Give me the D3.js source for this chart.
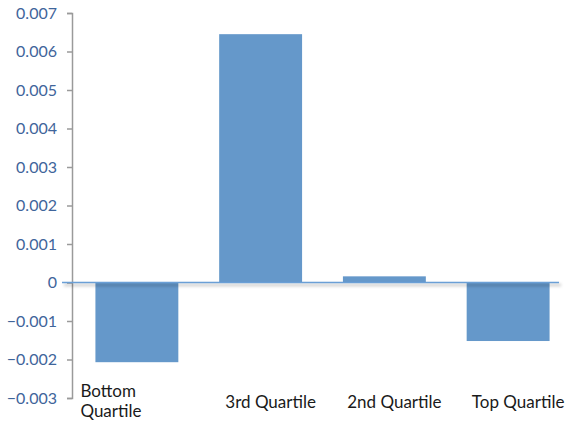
<!DOCTYPE html>
<html>
<head>
<meta charset="utf-8">
<script src="https://cdn.jsdelivr.net/npm/d3@7"></script>
<style>
body { margin: 0; background: #fff; }
text { font-family: Lato, "Open Sans", sans-serif; }
</style>
</head>
<body>
<svg id="chart" width="570" height="423"></svg>
<script>
var width = 570,
	height = 423;

// data
var categories = ["Bottom Quartile", "3rd Quartile", "2nd Quartile", "Top Quartile"];
var values = [-0.00207, 0.00645, 0.00016, -0.00152];
var yTicks = [-0.003, -0.002, -0.001, 0, 0.001, 0.002, 0.003, 0.004, 0.005, 0.006, 0.007];

var svg = d3.select("#chart");

var x = d3.scaleBand()
	.domain(categories)
	.range([75, 570])
	.paddingInner(0.33)
	.paddingOuter(0.165);

var y = d3.scaleLinear()
	.domain([-0.003, 0.007])
	.range([398, 13]);

var fmt = function(d) { return d === 0 ? "0" : d3.format(".3f")(d); };

// y axis
var yAxis = svg.append("g")
	.attr("transform", "translate(72,0)")
	.call(d3.axisLeft(y).tickValues(yTicks).tickFormat(fmt).tickSize(5).tickPadding(10));
yAxis.select(".domain").attr("stroke", "#9a9a9a").attr("stroke-width", 1.5);
yAxis.selectAll(".tick line").attr("stroke", "#9a9a9a").attr("stroke-width", 1.5);
yAxis.selectAll(".tick text")
	.attr("fill", "#3f659b")
	.style("font-size", "16px");

// soft shadow for the zero line (filter in user space, a flat line has no bbox height)
var defs = svg.append("defs");
defs.append("filter")
	.attr("id", "blur")
	.attr("filterUnits", "userSpaceOnUse")
	.attr("x", 0).attr("y", 0).attr("width", width).attr("height", height)
.append("feGaussianBlur").attr("stdDeviation", 1.5);

// bars
svg.selectAll("rect.bar")
	.data(values)
.enter().append("rect")
	.attr("class", "bar")
	.attr("x", function(d, i) { return x(categories[i]); })
	.attr("y", function(d) { return y(Math.max(0, d)); })
	.attr("width", x.bandwidth())
	.attr("height", function(d) { return Math.abs(y(d) - y(0)); })
	.attr("fill", "#6598ca");

// zero line
svg.append("line")
	.attr("x1", 64)
	.attr("x2", 561)
	.attr("y1", y(0) + 2.5)
	.attr("y2", y(0) + 2.5)
	.attr("stroke", "#000")
	.attr("stroke-opacity", 0.2)
	.attr("stroke-width", 2.5)
	.attr("filter", "url(#blur)");
svg.append("line")
	.attr("x1", 62)
	.attr("x2", 559)
	.attr("y1", y(0))
	.attr("y2", y(0))
	.attr("stroke", "#6a9fd6")
	.attr("stroke-width", 1.5);

// category labels
svg.selectAll("text.cat")
	.data(categories)
.enter().append("text")
	.attr("class", "cat")
	.attr("fill", "#1a1a1a")
	.style("font-size", "17px")
	.each(function(d, i) {
		var t = d3.select(this);
		if (i === 0) {
			var words = d.split(" ");
			t.attr("text-anchor", "start");
			t.append("tspan").attr("x", x(d) - 15).attr("y", 397).text(words[0]);
			t.append("tspan").attr("x", x(d) - 15).attr("y", 417).text(words[1]);
		} else {
			t.attr("text-anchor", "middle")
				.attr("x", x(d) + x.bandwidth() / 2 + 10)
				.attr("y", 408)
				.text(d);
		}
	});
</script>
</body>
</html>
